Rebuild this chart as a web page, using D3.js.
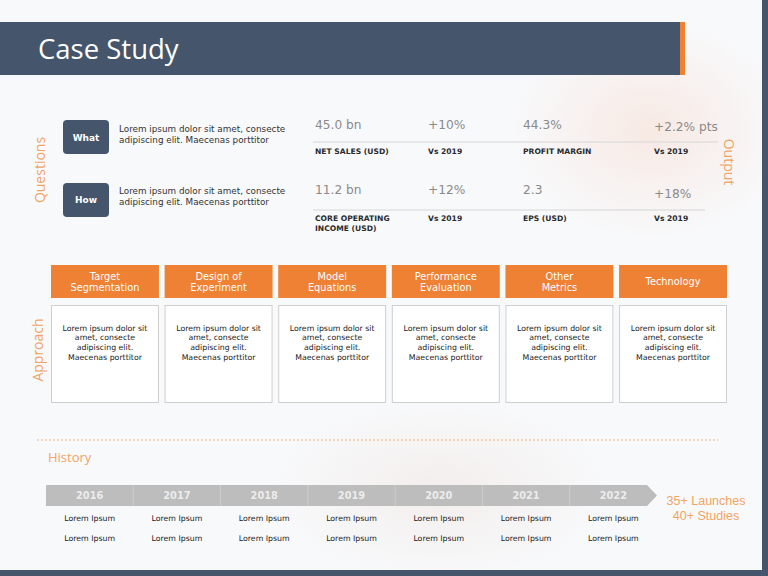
<!DOCTYPE html>
<html><head><meta charset="utf-8">
<script src="https://cdn.jsdelivr.net/npm/d3@7"></script>
<style>html,body{margin:0;padding:0;background:#fff;}svg{display:block;}</style>
</head><body>
<svg id="c" width="768" height="576"></svg>
<script>
// ---------- data ----------
const title = "Case Study";
const questionTags = ["What", "How"];
const questionTexts = [
  ["Lorem ipsum dolor sit amet, consecte", "adipiscing elit. Maecenas porttitor"],
  ["Lorem ipsum dolor sit amet, consecte", "adipiscing elit. Maecenas porttitor"]
];
const metricValuesRow1 = ["45.0 bn", "+10%", "44.3%", "+2.2% pts"];
const metricLabelsRow1 = [["NET SALES (USD)"], ["Vs 2019"], ["PROFIT MARGIN"], ["Vs 2019"]];
const metricValuesRow2 = ["11.2 bn", "+12%", "2.3", "+18%"];
const metricLabelsRow2 = [["CORE OPERATING", "INCOME (USD)"], ["Vs 2019"], ["EPS (USD)"], ["Vs 2019"]];
const approachTitles = [
  ["Target", "Segmentation"], ["Design of", "Experiment"], ["Model", "Equations"],
  ["Performance", "Evaluation"], ["Other", "Metrics"], ["Technology"]
];
const approachText = ["Lorem ipsum dolor sit", "amet, consecte", "adipiscing elit.", "Maecenas porttitor"];
const years = ["2016", "2017", "2018", "2019", "2020", "2021", "2022"];
const historyRow1 = ["Lorem Ipsum", "Lorem Ipsum", "Lorem Ipsum", "Lorem Ipsum", "Lorem Ipsum", "Lorem Ipsum", "Lorem Ipsum"];
const historyRow2 = ["Lorem Ipsum", "Lorem Ipsum", "Lorem Ipsum", "Lorem Ipsum", "Lorem Ipsum", "Lorem Ipsum", "Lorem Ipsum"];
const historySummary = ["35+ Launches", "40+ Studies"];

// ---------- styles ----------
const NAVY = "#45556b", ORANGE = "#ee8133", ORANGE_T = "#f0a465";
const SANS = "'DejaVu Sans', Verdana, sans-serif";
const OPEN = "'Open Sans', sans-serif";

const svg = d3.select("#c");
const defs = svg.append("defs");
const rg = defs.append("radialGradient").attr("id", "blob1");
rg.append("stop").attr("offset", "0%").attr("stop-color", "#f6d9cc").attr("stop-opacity", 0.5);
rg.append("stop").attr("offset", "100%").attr("stop-color", "#f6d9cc").attr("stop-opacity", 0);
const rg2 = defs.append("radialGradient").attr("id", "blob2");
rg2.append("stop").attr("offset", "0%").attr("stop-color", "#efe6e2").attr("stop-opacity", 0.6);
rg2.append("stop").attr("offset", "100%").attr("stop-color", "#efe6e2").attr("stop-opacity", 0);

// background
svg.append("rect").attr("width", 768).attr("height", 576).attr("fill", "#f8f9fb");
svg.append("ellipse").attr("cx", 650).attr("cy", 130).attr("rx", 140).attr("ry", 110).attr("fill", "url(#blob1)");
svg.append("ellipse").attr("cx", 440).attr("cy", 490).attr("rx", 170).attr("ry", 90).attr("fill", "url(#blob2)");

// frame
svg.append("rect").attr("x", 762).attr("y", 0).attr("width", 6).attr("height", 576).attr("fill", NAVY);
svg.append("rect").attr("x", 0).attr("y", 570).attr("width", 768).attr("height", 6).attr("fill", NAVY);

// header
svg.append("rect").attr("x", 0).attr("y", 22).attr("width", 681).attr("height", 53).attr("fill", NAVY);
svg.append("rect").attr("x", 680).attr("y", 22).attr("width", 5).attr("height", 53).attr("fill", ORANGE);
svg.append("text").attr("x", 38).attr("y", 59).text(title)
  .attr("font-family", OPEN).attr("font-size", 27.5).attr("fill", "#ffffff");

// ---------- questions ----------
const qY = d3.scaleBand().domain(questionTags).range([120, 217]).paddingInner(0.46);
svg.append("text").attr("transform", `translate(45,${170}) rotate(-90)`)
  .attr("text-anchor", "middle").text("Questions")
  .attr("font-family", OPEN).attr("font-size", 14).attr("fill", ORANGE_T);
const qg = svg.selectAll("g.q").data(questionTags).join("g").attr("class", "q")
  .attr("transform", d => `translate(0,${qY(d)})`);
qg.append("rect").attr("x", 63).attr("width", 46).attr("height", qY.bandwidth()).attr("rx", 4).attr("fill", NAVY);
qg.append("text").attr("x", 86).attr("y", qY.bandwidth() / 2 + 3.5).attr("text-anchor", "middle")
  .text(d => d).attr("font-family", SANS).attr("font-size", 9).attr("font-weight", "bold").attr("fill", "#fff");
qg.each(function(d, i) {
  d3.select(this).selectAll("text.qt").data(questionTexts[i]).join("text").attr("class", "qt")
    .attr("x", 119).attr("y", (t, j) => 11.5 + j * 11).text(t => t)
    .attr("font-family", SANS).attr("font-size", 8.8).attr("fill", "#333");
});

// ---------- output metrics ----------
const colPos = [315, 428, 523, 654];
function metricRow(values, labels, yVal, yLine, yLab, lineEnd, lastOffset) {
  svg.append("line").attr("x1", 313).attr("x2", lineEnd).attr("y1", yLine).attr("y2", yLine)
    .attr("stroke", "#d6d6d6").attr("stroke-width", 1);
  svg.selectAll(null).data(values).join("text")
    .attr("x", (d, i) => colPos[i]).attr("y", (d, i) => yVal + (i === 3 ? lastOffset : 0))
    .text(d => d).attr("font-family", SANS).attr("font-size", 12.2).attr("fill", "#8a8a8a");
  labels.forEach((ls, i) => {
    ls.forEach((l, j) => {
      svg.append("text").attr("x", colPos[i]).attr("y", yLab + j * 10).text(l)
        .attr("font-family", SANS).attr("font-size", 7.6).attr("font-weight", "bold").attr("fill", "#2b2b2b");
    });
  });
}
metricRow(metricValuesRow1, metricLabelsRow1, 129, 142, 154, 718, 2);
metricRow(metricValuesRow2, metricLabelsRow2, 194, 210, 221, 705, 4);
svg.append("text").attr("transform", `translate(724,162) rotate(90)`)
  .attr("text-anchor", "middle").text("Output")
  .attr("font-family", OPEN).attr("font-size", 14).attr("fill", ORANGE_T);

// ---------- approach ----------
const ax = d3.scaleBand().domain(d3.range(approachTitles.length)).range([51, 727]).paddingInner(0.05);
svg.append("text").attr("transform", `translate(43,350) rotate(-90)`)
  .attr("text-anchor", "middle").text("Approach")
  .attr("font-family", OPEN).attr("font-size", 14).attr("fill", ORANGE_T);
const ag = svg.selectAll("g.a").data(approachTitles).join("g").attr("class", "a")
  .attr("transform", (d, i) => `translate(${ax(i)},0)`);
ag.append("rect").attr("y", 265).attr("width", ax.bandwidth()).attr("height", 33).attr("fill", ORANGE);
ag.each(function(d) {
  const g = d3.select(this);
  const n = d.length;
  d.forEach((l, j) => {
    g.append("text").attr("x", ax.bandwidth() / 2).attr("y", 281.5 - (n - 1) * 5.5 + j * 11 + 3.5)
      .attr("text-anchor", "middle").text(l)
      .attr("font-family", SANS).attr("font-size", 9.8).attr("fill", "#fff");
  });
});
ag.append("rect").attr("x", 0.5).attr("y", 305.5).attr("width", ax.bandwidth() - 1).attr("height", 97)
  .attr("fill", "#fff").attr("stroke", "#cfcfcf").attr("stroke-width", 1);
ag.selectAll("text.b").data(approachText).join("text").attr("class", "b")
  .attr("x", ax.bandwidth() / 2).attr("y", (d, j) => 330.5 + j * 9.8).attr("text-anchor", "middle")
  .text(d => d).attr("font-family", SANS).attr("font-size", 7.8).attr("fill", "#222");

// ---------- history ----------
svg.append("line").attr("x1", 37).attr("x2", 718).attr("y1", 440).attr("y2", 440)
  .attr("stroke", "#f0b07c").attr("stroke-width", 1).attr("stroke-dasharray", "2,2");
svg.append("text").attr("x", 48).attr("y", 462).text("History")
  .attr("font-family", OPEN).attr("font-size", 13).attr("fill", ORANGE_T);

const hx = d3.scaleBand().domain(years).range([46, 657]);
const barTop = 485, barBot = 506, tip = 10;
const x0 = hx.range()[0], x1 = hx.range()[1];
svg.append("path")
  .attr("d", `M${x0},${barTop}L${x1 - tip},${barTop}L${x1},${(barTop + barBot) / 2}L${x1 - tip},${barBot}L${x0},${barBot}Z`)
  .attr("fill", "#bdbdbd");
svg.selectAll(null).data(years.slice(1)).join("line")
  .attr("x1", d => hx(d)).attr("x2", d => hx(d)).attr("y1", barTop).attr("y2", barBot)
  .attr("stroke", "#cdcdcd").attr("stroke-width", 1);
svg.selectAll(null).data(years).join("text")
  .attr("x", d => hx(d) + hx.bandwidth() / 2).attr("y", 499).attr("text-anchor", "middle")
  .text(d => d).attr("font-family", SANS).attr("font-size", 9.8).attr("font-weight", "bold").attr("fill", "#ececec");
[historyRow1, historyRow2].forEach((row, r) => {
  svg.selectAll(null).data(row).join("text")
    .attr("x", (d, i) => hx(years[i]) + hx.bandwidth() / 2).attr("y", 520.5 + r * 20.5).attr("text-anchor", "middle")
    .text(d => d).attr("font-family", SANS).attr("font-size", 7.8).attr("fill", "#222");
});
svg.selectAll(null).data(historySummary).join("text")
  .attr("x", 706).attr("y", (d, i) => 505 + i * 14.5).attr("text-anchor", "middle")
  .text(d => d).attr("font-family", "'Liberation Sans', Arial, sans-serif").attr("font-size", 12.5).attr("fill", ORANGE_T);
</script>
</body></html>
